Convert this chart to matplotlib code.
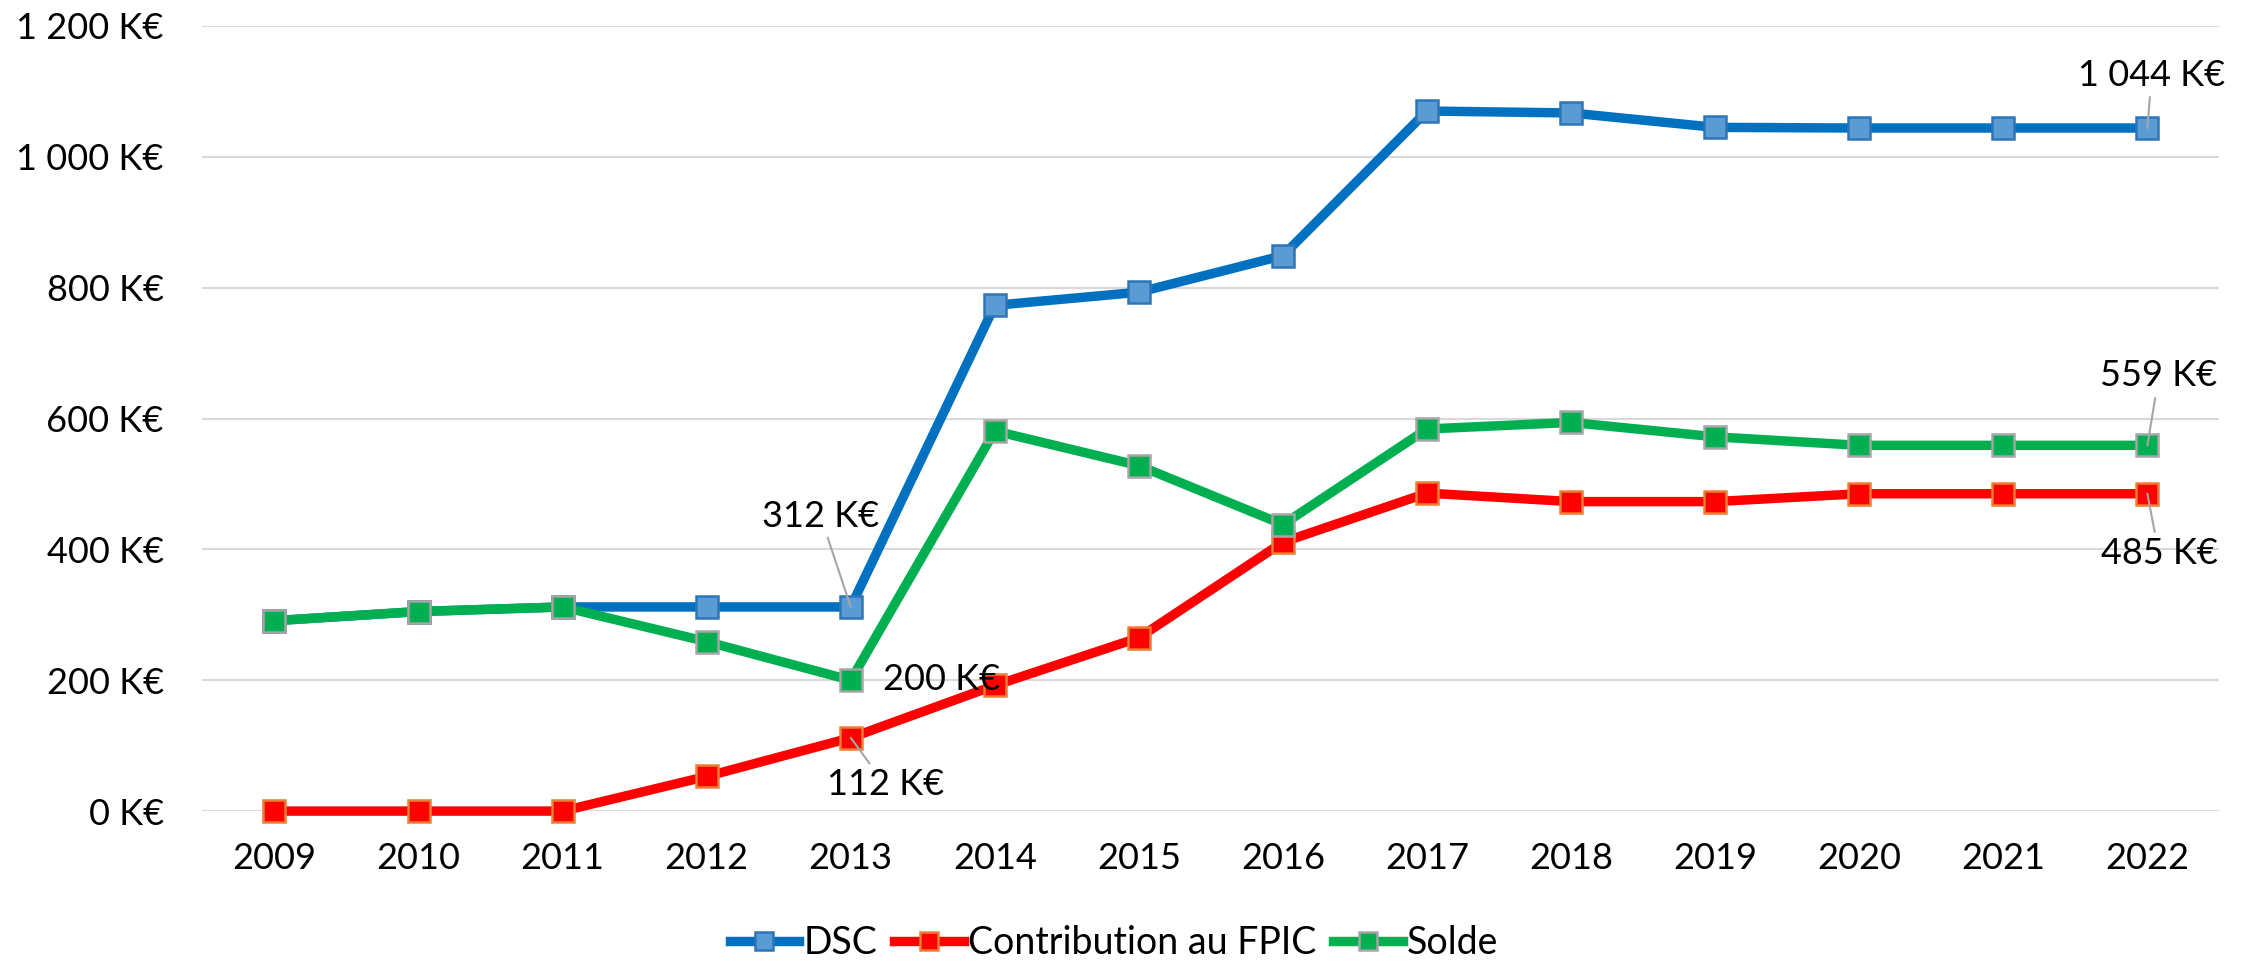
import matplotlib
matplotlib.use("Agg")
from matplotlib import pyplot as plt
from matplotlib.ticker import FuncFormatter
import numpy as np

plt.rcParams['font.family'] = ['Lato', 'DejaVu Sans']

years = ['2009', '2010', '2011', '2012', '2013', '2014', '2015',
         '2016', '2017', '2018', '2019', '2020', '2021', '2022']
dsc = [291, 305, 312, 312, 312, 773, 793, 849, 1070, 1067, 1045, 1044, 1044, 1044]
fpic = [0, 0, 0, 53, 112, 192, 265, 411, 486, 473, 473, 485, 485, 485]
solde = [291, 305, 312, 259, 200, 581, 528, 438, 584, 594, 572, 559, 559, 559]
y_ticks = [0, 200, 400, 600, 800, 1000, 1200]

def keur(v, pos=None):
    return format(int(round(v)), ',').replace(',', ' ') + ' K€'

fig = plt.figure(figsize=(22.67, 9.61), dpi=100)
ax = fig.add_axes([0.0893, 0.156, 0.8897, 0.817])

x = np.arange(len(years))
lw = 6.8
ms = 16
ax.plot(x, dsc, color='#0070C0', lw=lw, marker='s', ms=ms,
        mfc='#5B9BD5', mec='#2E75B6', mew=1.8, label='DSC', zorder=3, clip_on=False)
ax.plot(x, fpic, color='#FF0000', lw=lw, marker='s', ms=ms,
        mfc='#FF0000', mec='#ED7D31', mew=1.8, label='Contribution au FPIC', zorder=4, clip_on=False)
ax.plot(x, solde, color='#00B050', lw=lw, marker='s', ms=ms,
        mfc='#00B050', mec='#A5A5A5', mew=1.8, label='Solde', zorder=5, clip_on=False)

fs = 26
lead = dict(arrowstyle='-', color='#A6A6A6', lw=1.5, shrinkA=2, shrinkB=0)

# labels with leader lines
ax.annotate(keur(dsc[4]), xy=(4, dsc[4]), xytext=(3.79, 451), ha='center', va='center',
            fontsize=fs, arrowprops=lead, zorder=6)
ax.annotate(keur(solde[4]), xy=(4, solde[4]), xytext=(4.63, 201), ha='center', va='center',
            fontsize=fs, zorder=6)
ax.annotate(keur(fpic[4]), xy=(4, fpic[4]), xytext=(4.24, 40), ha='center', va='center',
            fontsize=fs, arrowprops=lead, zorder=6)
ax.annotate(keur(dsc[-1]), xy=(13, dsc[-1]), xytext=(13.03, 1125), ha='center', va='center',
            fontsize=fs, arrowprops=lead, zorder=6)
ax.annotate(keur(solde[-1]), xy=(13, solde[-1]), xytext=(13.08, 665), ha='center', va='center',
            fontsize=fs, arrowprops=lead, zorder=6)
ax.annotate(keur(fpic[-1]), xy=(13, fpic[-1]), xytext=(13.08, 393), ha='center', va='center',
            fontsize=fs, arrowprops=lead, zorder=6)

ax.set_xlim(-0.5, len(years) - 0.5)
ax.set_ylim(0, 1200)
ax.set_xticks(x)
ax.set_xticklabels(years)
ax.set_yticks(y_ticks)
ax.yaxis.set_major_formatter(FuncFormatter(keur))
ax.tick_params(axis='both', length=0, labelsize=fs)
ax.tick_params(axis='y', pad=28)
ax.tick_params(axis='x', pad=22)
ax.grid(axis='y', color='#D9D9D9', lw=1.5)
ax.set_axisbelow(True)
for s in ax.spines.values():
    s.set_visible(False)

ax.legend(loc='center', bbox_to_anchor=(0.452, -0.168), ncol=3, frameon=False,
          fontsize=27, handlelength=1.85, handletextpad=0.12, columnspacing=0.45,
          markerscale=0.85, borderpad=0.1)

fig.savefig('out.png', dpi=100)
